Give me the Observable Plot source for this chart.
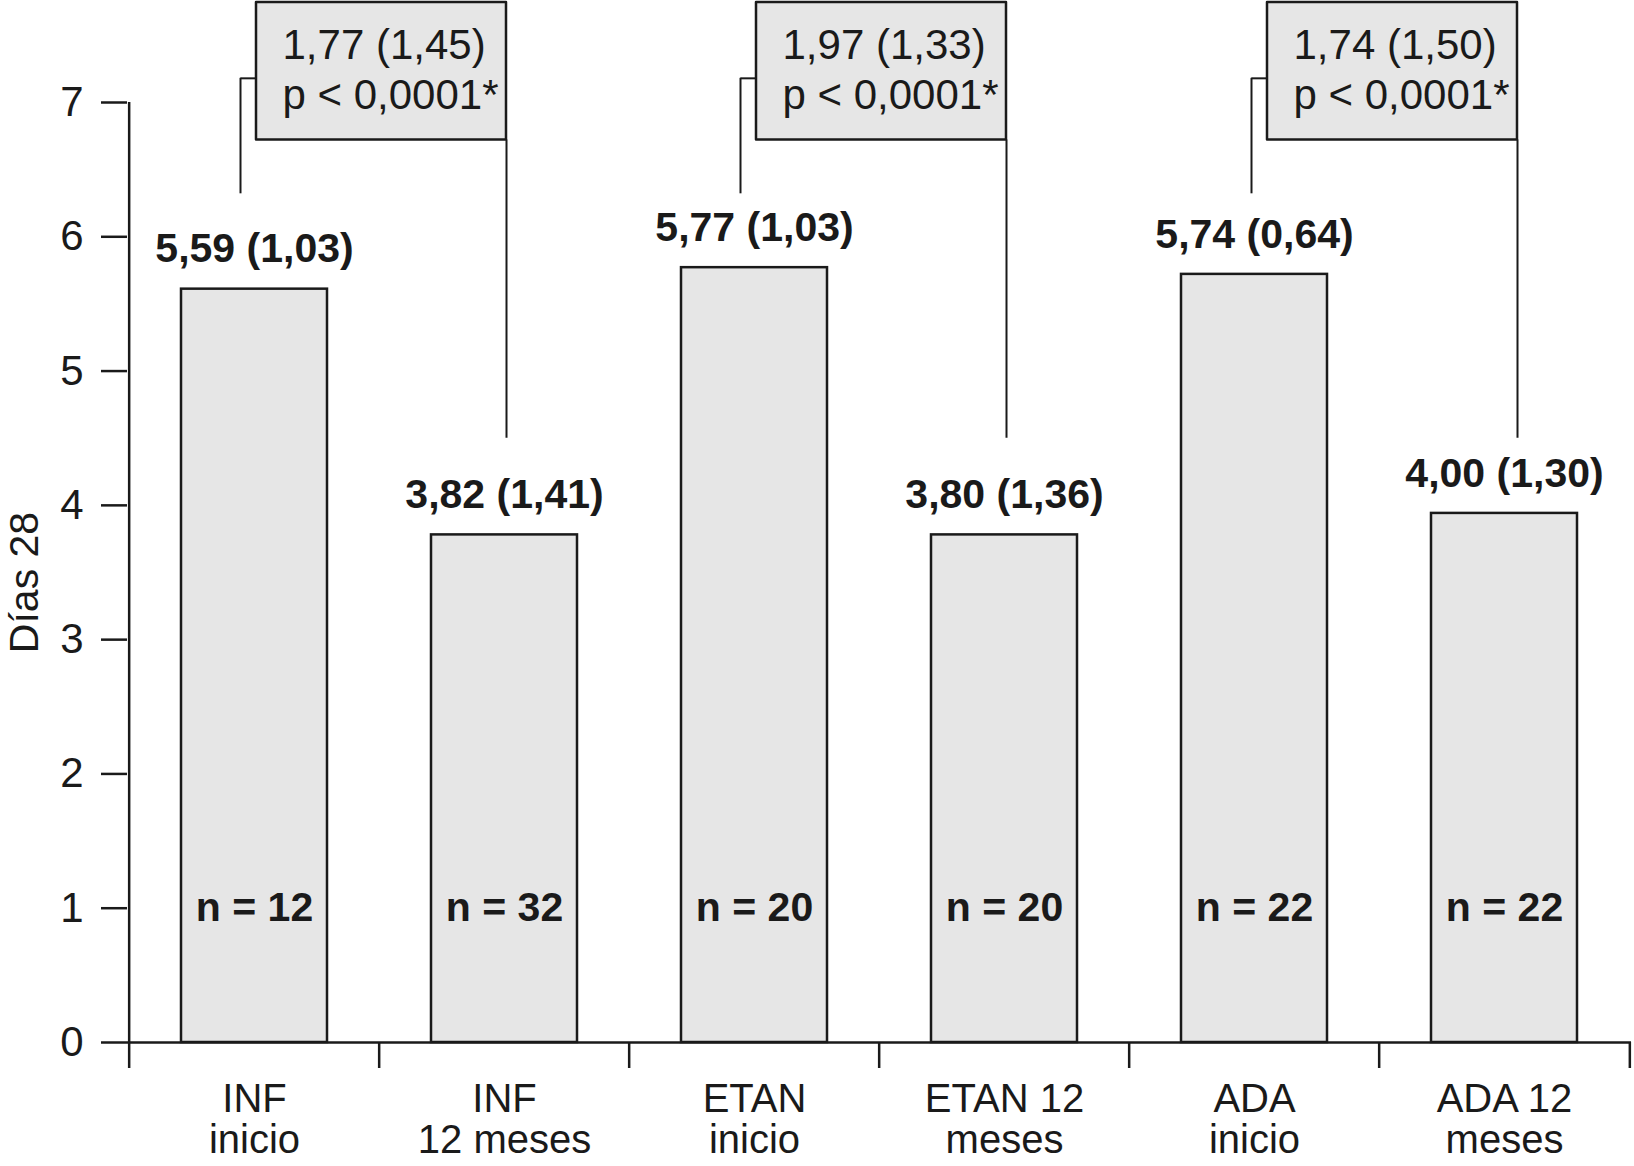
<!DOCTYPE html>
<html>
<head>
<meta charset="utf-8">
<script src="https://cdn.jsdelivr.net/npm/d3@7"></script>
<script src="https://cdn.jsdelivr.net/npm/@observablehq/plot@0.6"></script>
<style>
html, body { margin: 0; padding: 0; background: #ffffff; overflow: hidden; }
</style>
</head>
<body>
<div id="chart"></div>
<script>
// ---- data ----
const categories = ["INF\ninicio", "INF\n12 meses", "ETAN\ninicio", "ETAN 12\nmeses", "ADA\ninicio", "ADA 12\nmeses"];
const means = [5.61, 3.78, 5.77, 3.78, 5.72, 3.94];
const valueLabels = ["5,59 (1,03)", "3,82 (1,41)", "5,77 (1,03)", "3,80 (1,36)", "5,74 (0,64)", "4,00 (1,30)"];
const nLabels = ["n = 12", "n = 32", "n = 20", "n = 20", "n = 22", "n = 22"];
const yTicks = [0, 1, 2, 3, 4, 5, 6, 7];
const yLabel = "Días 28";

const annFrom = ["INF\ninicio", "ETAN\ninicio", "ADA\ninicio"];
const annTo = ["INF\n12 meses", "ETAN 12\nmeses", "ADA 12\nmeses"];
const annDiff = ["1,77 (1,45)", "1,97 (1,33)", "1,74 (1,50)"];
const annP = ["p < 0,0001*", "p < 0,0001*", "p < 0,0001*"];

// ---- tables built from the arrays ----
const bars = categories.map((c, i) => ({cat: c, value: means[i], label: valueLabels[i], n: nLabels[i]}));
const annotations = annFrom.map((f, i) => ({id: i, from: f, to: annTo[i], text: annDiff[i] + "\n" + annP[i]}));

// ---- layout / style ----
const W = 1634, H = 1166;
const ML = 127, MR = 3, MT = 102, MB = 124;
const step = (W - ML - MR) / categories.length;
const INK = "#1a1a1a";
const GREY = "#e6e6e6";
const SW = 2.5;
// annotation geometry (y in data units, horizontal nudges in px)
const BOX_TOP = 7.745, BOX_BOT = 6.72, JOIN_Y = 7.18, LEFT_BOT = 6.32, RIGHT_BOT = 4.50, TEXT_Y = 7.26;
const ANN_SHIFT = [0, 0, 11];

const annotationMarks = annotations.flatMap((a, i) => {
  const s = ANN_SHIFT[i];
  const rows = [
    {cat: a.from, top: BOX_TOP, bot: BOX_BOT},
    {cat: a.to, top: BOX_TOP, bot: BOX_BOT}
  ];
  return [
    Plot.ruleX([a], {x: "from", y1: LEFT_BOT, y2: JOIN_Y, dx: -14 + s, stroke: INK, strokeWidth: 2}),
    Plot.ruleY([a], {x1: "from", x2: "from", y: JOIN_Y, insetLeft: step / 2 - 14 + s, insetRight: step / 2 - 2 - s, stroke: INK, strokeWidth: 2}),
    Plot.ruleX([a], {x: "to", y1: RIGHT_BOT, y2: BOX_BOT, dx: 2 + s, stroke: INK, strokeWidth: 2}),
    Plot.areaY(rows, {x: "cat", y1: "bot", y2: "top", fill: GREY, stroke: INK, strokeWidth: SW, dx: 2 + s}),
    Plot.text([a], {x: "from", y: TEXT_Y, text: "text", textAnchor: "start", dx: 28 + s, lineHeight: 1.19, fontSize: 42, fill: INK, lineAnchor: "middle"})
  ];
});

const chart = Plot.plot({
  width: W,
  height: H,
  marginLeft: ML,
  marginRight: MR,
  marginTop: MT,
  marginBottom: MB,
  style: {fontFamily: "'Liberation Sans', Arial, Helvetica, sans-serif", fontSize: "41px", color: INK, background: "#ffffff", overflow: "visible"},
  x: {domain: categories, padding: 0},
  y: {domain: [0, 7]},
  marks: [
    Plot.barY(bars, {x: "cat", y: "value", fill: GREY, stroke: INK, strokeWidth: SW, insetLeft: 52, insetRight: 52}),
    Plot.ruleY([0], {stroke: INK, strokeWidth: SW}),
    // y spine + first category boundary tick
    Plot.ruleX([categories[0]], {x: d => d, y1: d3.max(yTicks), y2: 0, dx: -step / 2, insetBottom: -26, stroke: INK, strokeWidth: SW}),
    // other category boundary ticks
    Plot.ruleX(categories.slice(1), {x: d => d, y1: 0, y2: 0, dx: -step / 2, insetBottom: -26, stroke: INK, strokeWidth: SW}),
    Plot.ruleX([categories[categories.length - 1]], {x: d => d, y1: 0, y2: 0, dx: step / 2, insetBottom: -26, stroke: INK, strokeWidth: SW}),
    Plot.axisY({ticks: yTicks, tickFormat: d => String(d), tickSize: 26, tickPadding: 18, fontSize: 42, strokeWidth: SW, stroke: INK, fill: INK, label: null}),
    Plot.text([yLabel], {frameAnchor: "left", text: d => d, rotate: -90, dx: -103, dy: 10, fontSize: 41, fill: INK, lineAnchor: "middle", textAnchor: "middle"}),
    Plot.axisX({tickSize: 0, tickPadding: 40, fontSize: 40, fill: INK, label: null, lineHeight: 1.03}),
    Plot.text(bars, {x: "cat", y: "value", text: "label", dy: -40, fontWeight: "bold", fontSize: 41, fill: INK, lineAnchor: "middle"}),
    Plot.text(bars, {x: "cat", y: 1, text: "n", fontWeight: "bold", fontSize: 41, fill: INK, lineAnchor: "middle"}),
    ...annotationMarks
  ]
});

document.getElementById("chart").appendChild(chart);
</script>
</body>
</html>
